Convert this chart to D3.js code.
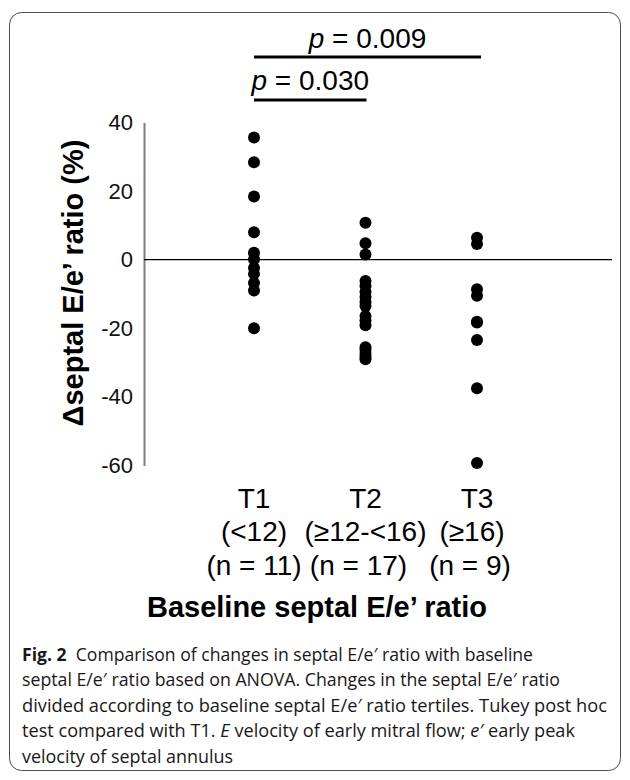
<!DOCTYPE html>
<html>
<head>
<meta charset="utf-8">
<script src="https://cdn.jsdelivr.net/npm/d3@7"></script>
<style>
  body { margin: 0; background: #fff; }
  svg { display: block; }
</style>
</head>
<body>
<script>
// groups on the x axis (baseline septal E/e' tertiles)
const groups = ['T1', 'T2', 'T3'];
const groupRanges = ['(<12)', '(≥12-<16)', '(≥16)'];
const groupCounts = ['(n = 11)', '(n = 17)', '(n = 9)'];

// change in septal E/e' ratio (%)
const t1Values = [35.6, 28.4, 18.4, 8.0, 2.0, 0.1, -2.4, -4.2, -6.8, -9.0, -20.0];
const t2Values = [10.8, 4.8, 1.5, -6.2, -7.7, -9.4, -10.9, -12.3, -13.5, -16.4, -17.7, -19.1,
  -25.5, -26.3, -27.5, -28.4, -29.0];
const t3Values = [6.4, 4.6, -8.6, -10.5, -18.1, -18.3, -23.4, -37.5, -59.3];

const yTicks = [40, 20, 0, -20, -40, -60];

// Tukey post hoc vs T1
const compGroups = [['T1', 'T3'], ['T1', 'T2']];
const compP = ['0.009', '0.030'];

let svg = d3.select('body')
  .append('svg')
  .attr('width', 630)
  .attr('height', 780);

let font = 'Liberation Sans, Arial, sans-serif';

let x = d3.scalePoint()
  .domain(groups)
  .range([254, 477]);

let y = d3.scaleLinear()
  .domain([-60, 40])
  .range([465.5, 122.5]);

// frame round the figure
svg.append('rect')
  .attr('x', 9.5)
  .attr('y', 12.5)
  .attr('width', 611)
  .attr('height', 758)
  .attr('rx', 12)
  .attr('fill', 'none')
  .attr('stroke', '#4d4d4d')
  .attr('stroke-width', 1);

drawAxis();
drawPoints();
drawComparisons();
drawLabels();
drawCaption();

function drawAxis() {
  let axis = svg.append('g')
    .attr('transform', 'translate(144,0)')
    .call(d3.axisLeft(y).tickValues(yTicks).tickSize(0).tickPadding(11).tickFormat(d => String(d)));

  axis.select('.domain')
    .attr('stroke', '#7f7f7f')
    .attr('stroke-width', 2);

  axis.selectAll('text')
    .attr('font-family', font)
    .attr('font-size', 22)
    .attr('fill', '#111');

  // zero line
  svg.append('line')
    .attr('x1', 144)
    .attr('x2', 612)
    .attr('y1', y(0))
    .attr('y2', y(0))
    .attr('stroke', '#000')
    .attr('stroke-width', 1.2);

  svg.append('text')
    .attr('transform', 'translate(83,283) rotate(-90)')
    .attr('text-anchor', 'middle')
    .attr('font-family', font)
    .attr('font-weight', 'bold')
    .attr('font-size', 29)
    .attr('fill', '#000')
    .text('Δseptal E/e’ ratio (%)');
}

function drawPoints() {
  let series = [t1Values, t2Values, t3Values];
  series.forEach((vals, i) => {
    svg.append('g')
      .selectAll('circle')
      .data(vals)
      .join('circle')
      .attr('cx', x(groups[i]))
      .attr('cy', d => y(d))
      .attr('r', 6)
      .attr('fill', '#000');
  });
}

function drawComparisons() {
  let lineY = [57, 100];
  let textY = [48, 90];
  compGroups.forEach((pair, i) => {
    let x1 = x(pair[0]);
    let x2 = x(pair[1]) + (i === 0 ? 4 : 1);
    svg.append('line')
      .attr('x1', x1)
      .attr('x2', x2)
      .attr('y1', lineY[i])
      .attr('y2', lineY[i])
      .attr('stroke', '#000')
      .attr('stroke-width', 3);

    let t = svg.append('text')
      .attr('x', (x1 + x2) / 2)
      .attr('y', textY[i])
      .attr('text-anchor', 'middle')
      .attr('font-family', font)
      .attr('font-size', 28)
      .attr('fill', '#000');
    t.append('tspan').attr('font-style', 'italic').text('p');
    t.append('tspan').text(' = ' + compP[i]);
  });
}

function drawLabels() {
  let rows = [groups, groupRanges, groupCounts];
  let baselines = [508, 541, 575];
  // the lower rows sit a little left of the columns in the original
  let shift = [[0, 0, 0], [0, 0, -5], [0, -7, -7]];
  rows.forEach((row, r) => {
    svg.append('g')
      .selectAll('text')
      .data(row)
      .join('text')
      .attr('x', (d, i) => x(groups[i]) + shift[r][i])
      .attr('y', baselines[r])
      .attr('text-anchor', 'middle')
      .attr('font-family', font)
      .attr('font-size', 28)
      .attr('fill', '#000')
      .text(d => d);
  });

  svg.append('text')
    .attr('x', 317)
    .attr('y', 617)
    .attr('text-anchor', 'middle')
    .attr('font-family', font)
    .attr('font-weight', 'bold')
    .attr('font-size', 29)
    .attr('fill', '#000')
    .text('Baseline septal E/e’ ratio');
}

function drawCaption() {
  // each line: list of [text, style] pieces, and the width it fills (null = keep same squeeze)
  let lines = [
    [[['Fig. 2', 'b'], ['  Comparison of changes in septal E/e′ ratio with baseline', '']], 511],
    [[['septal E/e′ ratio based on ANOVA. Changes in the septal E/e′ ratio', '']], 538],
    [[['divided according to baseline septal E/e′ ratio tertiles. Tukey post hoc', '']], 585],
    [[['test compared with T1. ', ''], ['E', 'i'], [' velocity of early mitral flow; ', ''], ['e′', 'i'], [' early peak', '']], 553],
    [[['velocity of septal annulus', '']], null]
  ];
  let base = 661;
  let step = 25.4;
  let ratios = [];
  let nodes = [];
  lines.forEach((line, i) => {
    let t = svg.append('text')
      .attr('x', 22)
      .attr('y', base + i * step)
      .attr('font-family', 'Open Sans, Noto Sans, sans-serif')
      .attr('font-size', 18)
      .attr('fill', '#1a1718')
      .attr('xml:space', 'preserve');
    line[0].forEach(p => {
      let s = t.append('tspan').text(p[0]);
      if (p[1] === 'b') s.attr('font-weight', 'bold');
      if (p[1] === 'i') s.attr('font-style', 'italic');
    });
    let natural = t.node().getComputedTextLength();
    if (line[1]) ratios.push(line[1] / natural);
    nodes.push([t, natural, line[1]]);
  });
  let avg = d3.mean(ratios);
  nodes.forEach(([t, natural, w]) => {
    t.attr('textLength', w ? w : natural * avg)
      .attr('lengthAdjust', 'spacingAndGlyphs');
  });
}
</script>
</body>
</html>
